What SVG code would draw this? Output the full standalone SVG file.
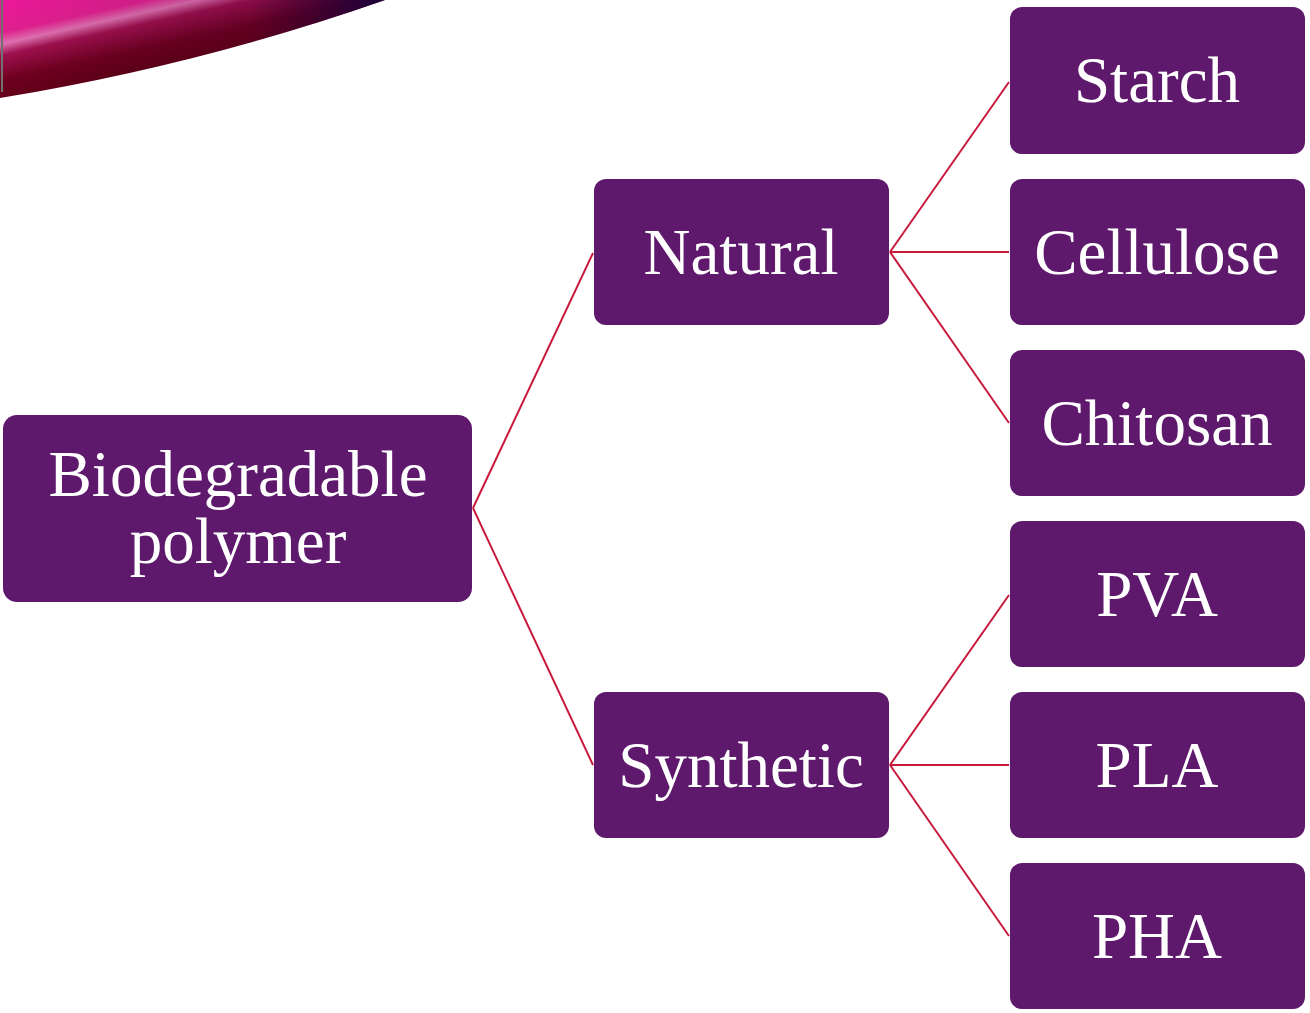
<svg xmlns="http://www.w3.org/2000/svg" width="1310" height="1013" viewBox="0 0 1310 1013">
<defs>
<linearGradient id="wedge" gradientUnits="userSpaceOnUse" x1="0" y1="-10" x2="24" y2="98">
<stop offset="0" stop-color="#f0149f"/>
<stop offset="0.38" stop-color="#e0208f"/>
<stop offset="0.48" stop-color="#e070b0"/>
<stop offset="0.58" stop-color="#a01050"/>
<stop offset="0.8" stop-color="#700020"/>
<stop offset="1" stop-color="#600015"/>
</linearGradient>
<linearGradient id="wedgeH" x1="0" y1="0" x2="1" y2="0">
<stop offset="0" stop-color="#000" stop-opacity="0"/>
<stop offset="0.65" stop-color="#200030" stop-opacity="0.15"/>
<stop offset="1" stop-color="#100040" stop-opacity="0.9"/>
</linearGradient>
<style>
.box{fill:#5e196c;}
.lbl{font-family:"Liberation Serif","Times New Roman",serif;font-size:65px;fill:#ffffff;text-anchor:middle;}
.con{stroke:#c8193c;stroke-width:2;fill:none;}
</style>
</defs>
<g id="decoration">
<path d="M0,0 L385,0 Q200,65 0,98 Z" fill="url(#wedge)"/>
<path d="M0,0 L385,0 Q200,65 0,98 Z" fill="url(#wedgeH)"/>
<line x1="2" y1="0" x2="2" y2="92" stroke="#707070" stroke-width="2"/>
</g>
<g id="connectors">
<line class="con" x1="473" y1="508" x2="593" y2="253"/>
<line class="con" x1="473" y1="508" x2="593" y2="765"/>
<line class="con" x1="890" y1="252" x2="1009" y2="82"/>
<line class="con" x1="890" y1="252" x2="1009" y2="252"/>
<line class="con" x1="890" y1="252" x2="1009" y2="423"/>
<line class="con" x1="890" y1="765" x2="1009" y2="595"/>
<line class="con" x1="890" y1="765" x2="1009" y2="765"/>
<line class="con" x1="890" y1="765" x2="1009" y2="936"/>
</g>
<g id="biodegradable">
<rect class="box" x="3" y="415" width="469" height="187" rx="14"/>
<text class="lbl" x="238" y="496">Biodegradable</text>
<text class="lbl" x="238" y="563">polymer</text>
</g>
<g id="natural">
<rect class="box" x="594" y="179" width="295" height="146" rx="12"/>
<text class="lbl" x="741" y="274">Natural</text>
</g>
<g id="synthetic">
<rect class="box" x="594" y="692" width="295" height="146" rx="12"/>
<text class="lbl" x="741" y="787">Synthetic</text>
</g>
<g id="starch">
<rect class="box" x="1010" y="7" width="295" height="147" rx="12"/>
<text class="lbl" x="1157" y="102">Starch</text>
</g>
<g id="cellulose">
<rect class="box" x="1010" y="179" width="295" height="146" rx="12"/>
<text class="lbl" x="1157" y="274">Cellulose</text>
</g>
<g id="chitosan">
<rect class="box" x="1010" y="350" width="295" height="146" rx="12"/>
<text class="lbl" x="1157" y="445">Chitosan</text>
</g>
<g id="pva">
<rect class="box" x="1010" y="521" width="295" height="146" rx="12"/>
<text class="lbl" x="1157" y="616">PVA</text>
</g>
<g id="pla">
<rect class="box" x="1010" y="692" width="295" height="146" rx="12"/>
<text class="lbl" x="1157" y="787">PLA</text>
</g>
<g id="pha">
<rect class="box" x="1010" y="863" width="295" height="146" rx="12"/>
<text class="lbl" x="1157" y="958">PHA</text>
</g>
</svg>
